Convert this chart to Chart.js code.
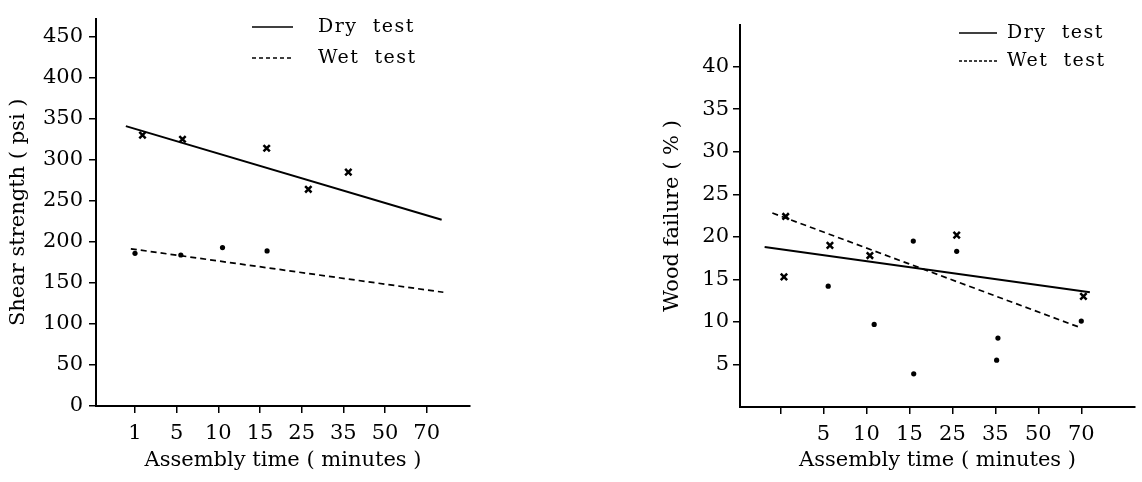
<!DOCTYPE html>
<html>
<head>
<meta charset="utf-8">
<script src="https://cdn.jsdelivr.net/npm/chart.js@4/dist/chart.umd.min.js"></script>
<style>
  body { margin: 0; background: #fff; }
  canvas { position: absolute; top: 0; }
  #shear { left: 0; }
  #wood { left: 654px; }
</style>
</head>
<body>
<canvas id="shear" width="480" height="482"></canvas>
<canvas id="wood" width="488" height="482"></canvas>
<script>
// x positions are category indexes (0 = "1 min", 1 = "5 min", ...)
const timeLabels = ['1', '5', '10', '15', '25', '35', '50', '70'];
const woodTimeLabels = ['', '5', '10', '15', '25', '35', '50', '70'];

// shear strength (psi)
const shearDryX = [0.18, 1.14, 3.16, 4.16, 5.12];
const shearDryY = [330, 325, 314, 264, 285];
const shearWetX = [0.0, 1.1, 2.1, 3.17];
const shearWetY = [186, 184, 193, 189];
const shearDryFitX = [-0.22, 7.36];
const shearDryFitY = [341, 227];
const shearWetFitX = [-0.10, 7.4];
const shearWetFitY = [191.5, 138.6];
const shearTicks = [0, 50, 100, 150, 200, 250, 300, 350, 400, 450];

// wood failure (%)
const woodDryX = [0.12, 0.08, 1.15, 2.08, 4.1, 7.05];
const woodDryY = [22.4, 15.3, 19.0, 17.8, 20.2, 13.0];
const woodWetX = [1.11, 2.18, 3.09, 3.1, 4.1, 5.06, 5.03, 7.0];
const woodWetY = [14.2, 9.7, 19.5, 3.9, 18.3, 8.1, 5.5, 10.1];
const woodDryFitX = [-0.37, 7.2];
const woodDryFitY = [18.8, 13.5];
const woodWetFitX = [-0.19, 6.97];
const woodWetFitY = [22.8, 9.35];
const woodTicks = [5, 10, 15, 20, 25, 30, 35, 40];

Chart.defaults.font.family = "'DejaVu Serif', serif";
Chart.defaults.color = '#000';

const toPoints = (xs, ys) => xs.map((x, i) => ({x: x, y: ys[i]}));

// legend drawn inside the plot, line sample + text
const testLegend = {
    id: 'testLegend',
    afterDraw(chart, args, opts) {
        const ctx = chart.ctx;
        ctx.save();
        ctx.strokeStyle = '#000';
        ctx.fillStyle = '#000';
        ctx.lineWidth = 1.6;
        ctx.font = '19px "DejaVu Serif"';
        ctx.letterSpacing = '1.5px';
        ctx.textBaseline = 'middle';
        opts.items.forEach(function (item) {
            ctx.setLineDash(item.dash);
            ctx.beginPath();
            ctx.moveTo(opts.x0, item.y);
            ctx.lineTo(opts.x1, item.y);
            ctx.stroke();
            ctx.fillText(item.text, opts.tx, item.y);
        });
        ctx.restore();
    }
};

const makeChart = (el, cfg) => {
    return new Chart(el, {
        type: 'scatter',
        data: {
            datasets: [
                {
                    data: toPoints(cfg.dryFitX, cfg.dryFitY),
                    showLine: true,
                    borderColor: '#000',
                    borderWidth: 2,
                    pointRadius: 0,
                },
                {
                    data: toPoints(cfg.wetFitX, cfg.wetFitY),
                    showLine: true,
                    borderColor: '#000',
                    borderWidth: 1.7,
                    borderDash: [6, 4],
                    pointRadius: 0,
                },
                {
                    data: toPoints(cfg.dryX, cfg.dryY),
                    pointStyle: 'crossRot',
                    pointRadius: 4.5,
                    borderColor: '#000',
                    borderWidth: 2.5,
                },
                {
                    data: toPoints(cfg.wetX, cfg.wetY),
                    pointStyle: 'circle',
                    pointRadius: 2.6,
                    backgroundColor: '#000',
                    borderColor: '#000',
                    borderWidth: 0,
                },
            ],
        },
        options: {
            responsive: false,
            animation: false,
            layout: {padding: cfg.padding},
            plugins: {
                legend: {display: false},
                tooltip: {enabled: false},
                testLegend: cfg.legend,
            },
            scales: {
                x: {
                    type: 'linear',
                    min: cfg.xMin,
                    max: cfg.xMax,
                    afterBuildTicks: (scale) => {
                        scale.ticks = cfg.xLabels.map((l, i) => ({value: i}));
                    },
                    afterFit: (scale) => { scale.height = cfg.xHeight; },
                    ticks: {
                        font: {size: 21},
                        padding: 8,
                        maxRotation: 0,
                        autoSkip: false,
                        callback: (v) => cfg.xLabels[v],
                    },
                    grid: {drawOnChartArea: false, tickLength: 7, color: '#000', lineWidth: 1.5},
                    border: {color: '#000', width: 2},
                    title: {
                        display: true,
                        text: 'Assembly time ( minutes )',
                        font: {size: 21},
                        padding: {bottom: 9},
                    },
                },
                y: {
                    min: 0,
                    max: cfg.yMax,
                    afterBuildTicks: (scale) => {
                        scale.ticks = cfg.yTicks.map((v) => ({value: v}));
                    },
                    afterFit: (scale) => { scale.width = cfg.yWidth; },
                    ticks: {font: {size: 21}, padding: cfg.yPad},
                    grid: {drawOnChartArea: false, tickLength: 7, color: '#000', lineWidth: 1.5},
                    border: {color: '#000', width: 2},
                    title: {
                        display: true,
                        text: cfg.yTitle,
                        font: {size: 21},
                        padding: {top: 6},
                    },
                },
            },
        },
        plugins: [testLegend],
    });
};

document.addEventListener('DOMContentLoaded', function () {
    makeChart(document.getElementById('shear'), {
        dryX: shearDryX, dryY: shearDryY,
        wetX: shearWetX, wetY: shearWetY,
        dryFitX: shearDryFitX, dryFitY: shearDryFitY,
        wetFitX: shearWetFitX, wetFitY: shearWetFitY,
        xLabels: timeLabels,
        xMin: -0.936, xMax: 8.04,
        yMax: 472, yTicks: shearTicks,
        yTitle: 'Shear strength ( psi )',
        yWidth: 96, yPad: 6, xHeight: 76,
        padding: {top: 7, right: 10, left: 0, bottom: 0},
        legend: {
            x0: 252, x1: 293, tx: 318,
            items: [
                {text: 'Dry  test', y: 27, dash: []},
                {text: 'Wet  test', y: 58, dash: [4, 3]},
            ],
        },
    });

    makeChart(document.getElementById('wood'), {
        dryX: woodDryX, dryY: woodDryY,
        wetX: woodWetX, wetY: woodWetY,
        dryFitX: woodDryFitX, dryFitY: woodDryFitY,
        wetFitX: woodWetFitX, wetFitY: woodWetFitY,
        xLabels: woodTimeLabels,
        xMin: -0.943, xMax: 8.25,
        yMax: 44.9, yTicks: woodTicks,
        yTitle: 'Wood failure ( % )',
        yWidth: 86, yPad: 4, xHeight: 75,
        padding: {top: 25, right: 2, left: 0, bottom: 0},
        legend: {
            x0: 305, x1: 343, tx: 353,
            items: [
                {text: 'Dry  test', y: 33, dash: []},
                {text: 'Wet  test', y: 61, dash: [3, 2]},
            ],
        },
    });
});
</script>
</body>
</html>
